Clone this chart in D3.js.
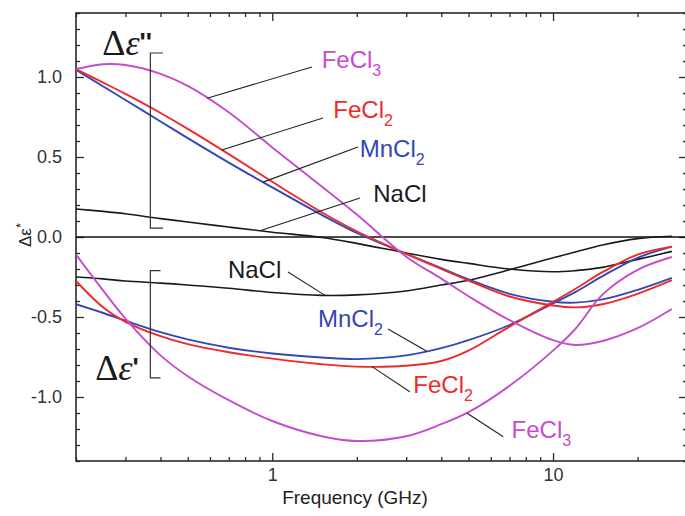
<!DOCTYPE html>
<html>
<head>
<meta charset="utf-8">
<script src="https://cdn.jsdelivr.net/npm/d3@7/dist/d3.min.js"></script>
<style>
  html, body { margin: 0; padding: 0; background: #fff; }
  svg { display: block; }
  text { font-family: "Liberation Sans", Arial, sans-serif; }
</style>
</head>
<body>
<svg id="chart" width="685" height="516"></svg>
<script>
// Frequency grid (GHz)
const freqs = [0.2, 0.25, 0.3, 0.4, 0.5, 0.7, 1, 1.5, 2, 3, 4, 5, 7, 10, 12, 15, 20, 26.5];

// Δε'' (loss part) for each salt
const lossFeCl3 = [1.05, 1.08, 1.075, 1.02, 0.945, 0.78, 0.56, 0.315, 0.14, -0.123, -0.26, -0.37, -0.52, -0.645, -0.675, -0.65, -0.57, -0.45];
const lossFeCl2 = [1.05, 0.965, 0.894, 0.775, 0.676, 0.518, 0.345, 0.155, 0.036, -0.105, -0.2, -0.272, -0.372, -0.428, -0.44, -0.42, -0.355, -0.27];
const lossMnCl2 = [1.045, 0.941, 0.856, 0.722, 0.618, 0.465, 0.31, 0.138, 0.025, -0.105, -0.195, -0.265, -0.355, -0.405, -0.41, -0.39, -0.33, -0.255];
const lossNaCl  = [0.175, 0.16, 0.145, 0.115, 0.094, 0.062, 0.03, -0.003, -0.04, -0.1, -0.14, -0.165, -0.2, -0.217, -0.21, -0.19, -0.14, -0.09];

// Δε' (real part) for each salt
const realFeCl3 = [-0.11, -0.335, -0.51, -0.74, -0.87, -1.02, -1.15, -1.245, -1.275, -1.245, -1.17, -1.095, -0.93, -0.71, -0.575, -0.36, -0.205, -0.125];
const realFeCl2 = [-0.275, -0.44, -0.53, -0.62, -0.67, -0.72, -0.76, -0.795, -0.81, -0.805, -0.775, -0.71, -0.56, -0.405, -0.325, -0.22, -0.11, -0.06];
const realMnCl2 = [-0.42, -0.475, -0.523, -0.595, -0.64, -0.692, -0.728, -0.753, -0.763, -0.74, -0.695, -0.645, -0.55, -0.415, -0.345, -0.245, -0.13, -0.06];
const realNaCl  = [-0.25, -0.262, -0.275, -0.288, -0.30, -0.32, -0.347, -0.365, -0.362, -0.337, -0.30, -0.27, -0.205, -0.13, -0.094, -0.05, -0.01, 0.005];

// Axis ticks
const xMajorTicks = [1, 10];
const xTickLabels = ["1", "10"];
const yMajorTicks = [-1.0, -0.5, 0.0, 0.5, 1.0];
const yTickLabels = ["-1.0", "-0.5", "0.0", "0.5", "1.0"];

const colors = { FeCl3: "#c54ccc", FeCl2: "#ee2a2a", MnCl2: "#3448b4", NaCl: "#1a1a1a" };

const series = [
  { name: "NaCl",  part: "loss", values: lossNaCl },
  { name: "NaCl",  part: "real", values: realNaCl },
  { name: "MnCl2", part: "loss", values: lossMnCl2 },
  { name: "MnCl2", part: "real", values: realMnCl2 },
  { name: "FeCl2", part: "loss", values: lossFeCl2 },
  { name: "FeCl2", part: "real", values: realFeCl2 },
  { name: "FeCl3", part: "loss", values: lossFeCl3 },
  { name: "FeCl3", part: "real", values: realFeCl3 }
];

// ---- layout ----
const svg = d3.select("#chart");
const plot = { left: 76, right: 687, top: 13, bottom: 461 };

const x = d3.scaleLog().domain([0.2, 30]).range([plot.left, plot.right]);
const y = d3.scaleLinear().domain([-1.4, 1.4]).range([plot.bottom, plot.top]);

svg.append("defs").append("clipPath").attr("id", "plotClip")
  .append("rect").attr("x", plot.left).attr("y", plot.top)
  .attr("width", plot.right - plot.left).attr("height", plot.bottom - plot.top);

// minor tick values
const xMinor = [];
[0.1, 1, 10].forEach(d => { for (let k = 2; k <= 9; k++) { const v = +(d * k).toPrecision(3); if (v >= 0.2 && v <= 30) xMinor.push(v); } });
const yMinor = d3.range(-14, 15).map(i => i / 10).filter(v => !yMajorTicks.some(m => Math.abs(m - v) < 1e-9));

const axisColor = "#2a2a2a";
function styleAxis(g) {
  g.select(".domain").remove();
  g.selectAll(".tick line").attr("stroke", axisColor).attr("stroke-width", 1.3);
  g.selectAll(".tick text").attr("fill", "#333").style("font-size", "18px")
    .style("font-family", "'Liberation Sans', Arial, sans-serif");
}

// bottom axis
svg.append("g").attr("transform", `translate(0,${plot.bottom})`)
  .call(d3.axisBottom(x).tickValues(xMajorTicks).tickSize(-8).tickPadding(7)
    .tickFormat((d, i) => xTickLabels[i]))
  .call(styleAxis);
svg.append("g").attr("transform", `translate(0,${plot.bottom})`)
  .call(d3.axisBottom(x).tickValues(xMinor).tickSize(-4).tickFormat(""))
  .call(styleAxis);
// top axis
svg.append("g").attr("transform", `translate(0,${plot.top})`)
  .call(d3.axisTop(x).tickValues(xMajorTicks).tickSize(-8).tickFormat(""))
  .call(styleAxis);
svg.append("g").attr("transform", `translate(0,${plot.top})`)
  .call(d3.axisTop(x).tickValues(xMinor).tickSize(-4).tickFormat(""))
  .call(styleAxis);
// left axis
svg.append("g").attr("transform", `translate(${plot.left},0)`)
  .call(d3.axisLeft(y).tickValues(yMajorTicks).tickSize(-8).tickPadding(14)
    .tickFormat((d, i) => yTickLabels[i]))
  .call(styleAxis);
svg.append("g").attr("transform", `translate(${plot.left},0)`)
  .call(d3.axisLeft(y).tickValues(yMinor).tickSize(-4).tickFormat(""))
  .call(styleAxis);
// right axis
svg.append("g").attr("transform", `translate(${plot.right},0)`)
  .call(d3.axisRight(y).tickValues(yMajorTicks).tickSize(-8).tickFormat(""))
  .call(styleAxis);
svg.append("g").attr("transform", `translate(${plot.right},0)`)
  .call(d3.axisRight(y).tickValues(yMinor).tickSize(-4).tickFormat(""))
  .call(styleAxis);

// frame
svg.append("rect").attr("x", plot.left).attr("y", plot.top)
  .attr("width", plot.right - plot.left).attr("height", plot.bottom - plot.top)
  .attr("fill", "none").attr("stroke", axisColor).attr("stroke-width", 1.6);

// zero line
svg.append("line").attr("x1", plot.left).attr("x2", plot.right)
  .attr("y1", y(0)).attr("y2", y(0)).attr("stroke", "#111").attr("stroke-width", 1.5);

// axis titles
svg.append("text").attr("x", 355).attr("y", 504)
  .attr("text-anchor", "middle").attr("fill", "#222").style("font-size", "19px")
  .text("Frequency (GHz)");

const yTitle = svg.append("text")
  .attr("transform", `translate(31,${y(0) - 2}) rotate(-90)`)
  .attr("text-anchor", "middle").attr("fill", "#222").style("font-size", "17px");
yTitle.append("tspan").text("Δε");
yTitle.append("tspan").attr("dy", -6).style("font-size", "13px").text("*");

// curves
const line = d3.line().curve(d3.curveCatmullRom.alpha(0.5))
  .x(d => x(d[0])).y(d => y(d[1]));

svg.append("g").attr("clip-path", "url(#plotClip)")
  .selectAll("path").data(series).join("path")
  .attr("d", s => line(freqs.map((f, i) => [f, s.values[i]])))
  .attr("fill", "none")
  .attr("stroke", s => colors[s.name])
  .attr("stroke-width", s => s.name === "NaCl" ? 1.6 : 1.9);

// value of a series at frequency f (log-linear interpolation)
function valueAt(values, f) {
  const lf = Math.log10(f);
  for (let i = 0; i < freqs.length - 1; i++) {
    const a = Math.log10(freqs[i]), b = Math.log10(freqs[i + 1]);
    if (lf >= a && lf <= b) { const t = (lf - a) / (b - a); return values[i] + t * (values[i + 1] - values[i]); }
  }
  return values[values.length - 1];
}

// curve labels with leader lines (positions in GHz / Δε units)
const labels = [
  { base: "FeCl", sub: "3", color: colors.FeCl3, values: lossFeCl3, onCurve: 0.586, end: [1.385, 1.0625], text: [1.50, 1.056] },
  { base: "FeCl", sub: "2", color: colors.FeCl2, values: lossFeCl2, onCurve: 0.662, end: [1.516, 0.744], text: [1.65, 0.742] },
  { base: "MnCl", sub: "2", color: colors.MnCl2, values: lossMnCl2, onCurve: 0.927, end: [2.02, 0.5625], text: [2.05, 0.502] },
  { base: "NaCl", sub: "",  color: colors.NaCl,  values: lossNaCl,  onCurve: 0.904, end: [2.054, 0.244], text: [2.29, 0.221] },
  { base: "NaCl", sub: "",  color: colors.NaCl,  values: realNaCl,  onCurve: 1.541, end: [1.138, -0.219], text: [0.695, -0.256] },
  { base: "MnCl", sub: "2", color: colors.MnCl2, values: realMnCl2, onCurve: 3.55, end: [2.584, -0.575], text: [1.455, -0.564] },
  { base: "FeCl", sub: "2", color: colors.FeCl2, values: realFeCl2, onCurve: 2.26, end: [3.09, -0.967], text: [3.18, -0.977] },
  { base: "FeCl", sub: "3", color: colors.FeCl3, values: realFeCl3, onCurve: 4.93, end: [6.65, -1.248], text: [7.12, -1.258] }
];

const ann = svg.append("g");
labels.forEach(l => {
  ann.append("line")
    .attr("x1", x(l.onCurve)).attr("y1", y(valueAt(l.values, l.onCurve)))
    .attr("x2", x(l.end[0])).attr("y2", y(l.end[1]))
    .attr("stroke", "#222").attr("stroke-width", 1.1);
  const t = ann.append("text").attr("x", x(l.text[0])).attr("y", y(l.text[1]))
    .attr("fill", l.color).style("font-size", "24px");
  t.append("tspan").text(l.base);
  if (l.sub) t.append("tspan").attr("dy", 8).style("font-size", "16px").text(l.sub);
});

// brackets grouping the two families of curves
const brackets = [
  { f: 0.368, fEnd: 0.408, top: 1.15, bottom: 0.056 },
  { f: 0.368, fEnd: 0.40, top: -0.21, bottom: -0.88 }
];
brackets.forEach(b => {
  ann.append("path")
    .attr("d", `M${x(b.fEnd)},${y(b.top)}H${x(b.f)}V${y(b.bottom)}H${x(b.fEnd)}`)
    .attr("fill", "none").attr("stroke", "#333").attr("stroke-width", 1.2);
});

// family symbols
function symbol(f, v, prime) {
  const t = ann.append("text").attr("x", x(f)).attr("y", y(v)).attr("fill", "#1a1a1a")
    .style("font-family", "'Liberation Serif', 'Times New Roman', serif").style("font-size", "36px");
  t.append("tspan").style("font-family", "'Liberation Serif', serif").text("Δ");
  t.append("tspan").style("font-style", "italic").style("font-family", "'Liberation Serif', serif").text("ε");
  t.append("tspan").style("font-family", "'Liberation Sans', Arial, sans-serif").style("font-size", "26px")
    .style("font-weight", "bold").attr("dy", -4).text(prime);
}
symbol(0.248, 1.1375, "''");
symbol(0.234, -0.894, "'");
</script>
</body>
</html>
